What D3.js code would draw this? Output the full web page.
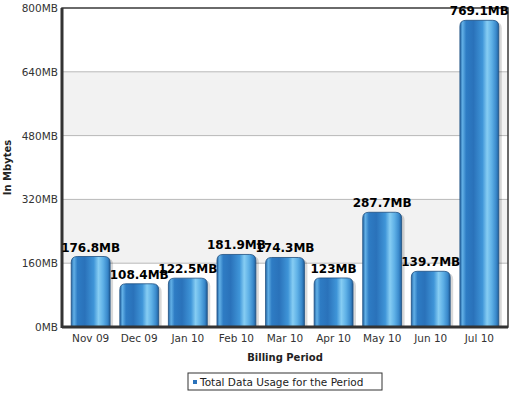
<!DOCTYPE html>
<html lang="en">
<head>
    <meta charset="UTF-8"/>
    <title>Total Data Usage</title>
    <script src="https://d3js.org/d3.v7.min.js"></script>
    <style>
        body { margin: 0; background: #fff; }
        text { font-family: "DejaVu Sans", Verdana, sans-serif; }
    </style>
</head>
<body>
<script>
    var periods = ["Nov 09", "Dec 09", "Jan 10", "Feb 10", "Mar 10", "Apr 10", "May 10", "Jun 10", "Jul 10"];
    var usage = [176.8, 108.4, 122.5, 181.9, 174.3, 123, 287.7, 139.7, 769.1];
    var usageLabels = ["176.8MB", "108.4MB", "122.5MB", "181.9MB", "174.3MB", "123MB", "287.7MB", "139.7MB", "769.1MB"];
    var yTicks = [0, 160, 320, 480, 640, 800];

    var w = 515, h = 393;
    // plot area edges ("top" is reserved on window, so use short names)
    var pLeft = 62, pRight = 508, pTop = 8, pBottom = 327;

    var svg = d3.select("body").append("svg")
        .attr("width", w)
        .attr("height", h);

    var defs = svg.append("defs");
    var grad = defs.append("linearGradient")
        .attr("id", "barGrad")
        .attr("x1", "0%").attr("x2", "100%")
        .attr("y1", "0%").attr("y2", "0%");
    [[0, "#2466a6"], [0.07, "#62b0e6"], [0.16, "#2e7cc4"], [0.35, "#2a72ba"],
     [0.58, "#3f95d8"], [0.7, "#86cdf3"], [0.82, "#5eb0e6"], [0.93, "#3a8acc"], [1, "#215f9c"]]
        .forEach(function(s) {
            grad.append("stop").attr("offset", s[0]).attr("stop-color", s[1]);
        });

    var x = d3.scaleBand()
        .domain(periods)
        .range([pLeft, pRight])
        .paddingInner(0.2)
        .paddingOuter(0.19);

    var y = d3.scaleLinear()
        .domain([0, 800])
        .range([pBottom, pTop]);

    // alternating bands
    for (var i = 0; i < yTicks.length - 1; i++) {
        svg.append("rect")
            .attr("x", pLeft)
            .attr("y", y(yTicks[i + 1]))
            .attr("width", pRight - pLeft)
            .attr("height", y(yTicks[i]) - y(yTicks[i + 1]))
            .attr("fill", i % 2 === 1 ? "#f2f2f2" : "#ffffff");
    }

    // grid lines
    svg.selectAll(".grid")
        .data(yTicks.slice(1, -1))
        .enter()
        .append("line")
        .attr("x1", pLeft).attr("x2", pRight)
        .attr("y1", function(d) { return y(d); })
        .attr("y2", function(d) { return y(d); })
        .attr("stroke", "#b8b8b8")
        .attr("stroke-width", 1);

    function barPath(x0, y0, bw, bh) {
        var r = Math.min(6, bh / 2);
        return "M" + x0 + "," + (y0 + bh) +
            "V" + (y0 + r) +
            "Q" + x0 + "," + y0 + " " + (x0 + r) + "," + y0 +
            "H" + (x0 + bw - r) +
            "Q" + (x0 + bw) + "," + y0 + " " + (x0 + bw) + "," + (y0 + r) +
            "V" + (y0 + bh) + "Z";
    }

    // shadows
    svg.selectAll(".shadow")
        .data(usage)
        .enter()
        .append("path")
        .attr("d", function(d, i) {
            return barPath(x(periods[i]) + 3, y(d) + 2, x.bandwidth(), pBottom - y(d) - 2);
        })
        .attr("fill", "#000")
        .attr("opacity", 0.15);

    svg.selectAll(".bar")
        .data(usage)
        .enter()
        .append("path")
        .attr("d", function(d, i) {
            return barPath(x(periods[i]), y(d), x.bandwidth(), pBottom - y(d));
        })
        .attr("fill", "url(#barGrad)")
        .attr("stroke", "#1e4f80")
        .attr("stroke-width", 0.8);

    // frame
    svg.append("rect")
        .attr("x", pLeft).attr("y", pTop)
        .attr("width", pRight - pLeft).attr("height", pBottom - pTop)
        .attr("fill", "none")
        .attr("stroke", "#3a3a3a")
        .attr("stroke-width", 1.5);
    svg.append("line")
        .attr("x1", pLeft).attr("x2", pLeft)
        .attr("y1", pTop).attr("y2", pBottom + 1)
        .attr("stroke", "#333").attr("stroke-width", 3);
    svg.append("line")
        .attr("x1", pLeft).attr("x2", pRight)
        .attr("y1", pBottom).attr("y2", pBottom)
        .attr("stroke", "#333").attr("stroke-width", 3);

    // value labels
    svg.selectAll(".val")
        .data(usage)
        .enter()
        .append("text")
        .attr("x", function(d, i) { return x(periods[i]) + x.bandwidth() / 2; })
        .attr("y", function(d) { return y(d) - 5; })
        .attr("text-anchor", "middle")
        .attr("font-size", "12px")
        .attr("font-weight", "bold")
        .attr("fill", "#000")
        .text(function(d, i) { return usageLabels[i]; });

    // y tick labels
    svg.selectAll(".ytick")
        .data(yTicks)
        .enter()
        .append("text")
        .attr("x", pLeft - 4)
        .attr("y", function(d) { return y(d) + 4; })
        .attr("text-anchor", "end")
        .attr("font-size", "10.5px")
        .attr("fill", "#333")
        .text(function(d) { return d + "MB"; });

    // x tick labels
    svg.selectAll(".xtick")
        .data(periods)
        .enter()
        .append("text")
        .attr("x", function(d) { return x(d) + x.bandwidth() / 2; })
        .attr("y", pBottom + 15)
        .attr("text-anchor", "middle")
        .attr("font-size", "10.5px")
        .attr("fill", "#333")
        .text(function(d) { return d; });

    // axis titles
    svg.append("text")
        .attr("x", (pLeft + pRight) / 2)
        .attr("y", 361)
        .attr("text-anchor", "middle")
        .attr("font-size", "10px")
        .attr("font-weight", "bold")
        .attr("fill", "#222")
        .text("Billing Period");

    svg.append("text")
        .attr("transform", "translate(11," + ((pTop + pBottom) / 2) + ") rotate(-90)")
        .attr("text-anchor", "middle")
        .attr("font-size", "10px")
        .attr("font-weight", "bold")
        .attr("fill", "#222")
        .text("In Mbytes");

    // legend
    var lg = svg.append("g").attr("transform", "translate(188,373)");
    lg.append("rect")
        .attr("width", 194).attr("height", 17)
        .attr("fill", "#fff")
        .attr("stroke", "#333")
        .attr("stroke-width", 1);
    lg.append("rect")
        .attr("x", 5).attr("y", 7)
        .attr("width", 4).attr("height", 4)
        .attr("fill", "#2a72ba");
    lg.append("text")
        .attr("x", 12).attr("y", 12.5)
        .attr("font-size", "10.5px")
        .attr("fill", "#222")
        .text("Total Data Usage for the Period");
</script>
</body>
</html>
